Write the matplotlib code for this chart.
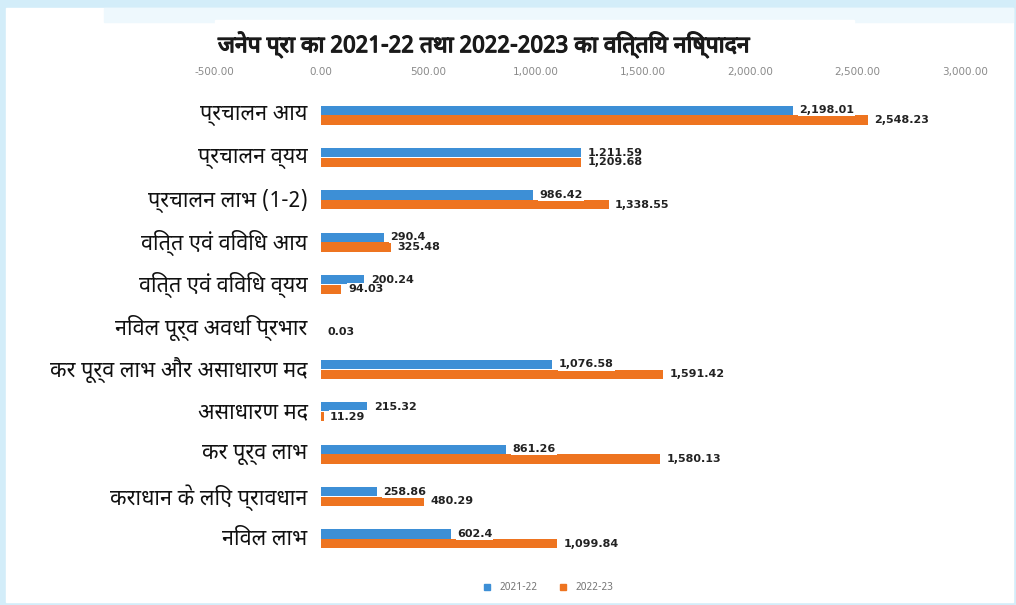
import matplotlib
matplotlib.use('Agg')
import matplotlib.pyplot as plt
import matplotlib.patheffects as pe
from matplotlib import font_manager
from matplotlib.ft2font import FT2Font
from matplotlib.patches import Rectangle
from matplotlib.lines import Line2D

# data (Rs. crore)
categories = ['प्रचालन आय', 'प्रचालन व्यय', 'प्रचालन लाभ (1-2)', 'वित्त एवं विविध आय',
              'वित्त एवं विविध व्यय', 'निवल पूर्व अवधि प्रभार', 'कर पूर्व लाभ और असाधारण मद',
              'असाधारण मद', 'कर पूर्व लाभ', 'कराधान के लिए प्रावधान', 'निवल लाभ']
fy2122 = [2198.01, 1211.59, 986.42, 290.4, 200.24, 0, 1076.58, 215.32, 861.26, 258.86, 602.4]
fy2223 = [2548.23, 1209.68, 1338.55, 325.48, 94.03, 0.03, 1591.42, 11.29, 1580.13, 480.29, 1099.84]
series_names = ['2021-22', '2022-23']
xticks = [-500, 0, 500, 1000, 1500, 2000, 2500, 3000]
title = 'जनेप प्रा का 2021-22 तथा 2022-2023 का वित्तिय निष्पादन'

BLUE = '#3d8fd6'
ORANGE = '#ee7420'

# look for a font that has Devanagari glyphs
preferred = ['Noto Sans Devanagari', 'Lohit Devanagari', 'Mukta', 'Hind', 'FreeSans']
found = []
for f in font_manager.fontManager.ttflist:
    try:
        if ord('क') in FT2Font(f.fname).get_charmap():
            found.append(f.name)
    except Exception:
        pass
deva = None
for name in preferred:
    if name in found:
        deva = name
        break
if deva is None and found:
    deva = found[0]
plt.rcParams['font.family'] = [deva, 'DejaVu Sans'] if deva else ['DejaVu Sans']

W, H = 1016, 605
fig = plt.figure(figsize=(W / 100, H / 100), dpi=100, facecolor='#d3edf9')


def px_rect(x0, y0, x1, y1, color):
    fig.patches.append(Rectangle((x0 / W, 1 - y1 / H), (x1 - x0) / W, (y1 - y0) / H,
                                 transform=fig.transFigure, color=color, zorder=-10))


px_rect(6, 8, 1013, 602, 'white')
px_rect(104, 8, 1013, 22, '#eef8fd')
px_rect(215, 20, 854, 40, 'white')

ax = fig.add_axes([214 / W, 1 - 560 / H, 751 / W, 475 / H])
ax.set_facecolor('none')

y = list(range(len(categories)))
h = 0.22
off = 0.115
ax.barh([i - off for i in y], fy2122, height=h, color=BLUE)
ax.barh([i + off for i in y], fy2223, height=h, color=ORANGE)

for i in y:
    for v, dy in ((fy2122[i], -off), (fy2223[i], off)):
        if v == 0:
            continue
        ax.text(v + 30, i + dy, f'{v:,}', fontsize=8, fontweight='bold', color='#222222',
                va='center', ha='left', family=['DejaVu Sans'],
                bbox=dict(boxstyle='square,pad=0.1', fc='white', ec='none'))
    ax.text(-64, i + 0.02, categories[i], fontsize=15.5, ha='right', va='center',
            color='#111111', clip_on=False)

ax.set_xlim(-500, 3000)
ax.set_ylim(10.5, -0.71)
ax.xaxis.tick_top()
ax.set_xticks(xticks)
ax.set_xticklabels([f'{t:,.2f}' for t in xticks], fontsize=7.5, color='#8a8a8a',
                   family=['DejaVu Sans'])
ax.tick_params(axis='x', length=0, pad=6)
ax.set_yticks([])
for s in ax.spines.values():
    s.set_visible(False)

fig.text(485 / W, 1 - 45 / H, title, fontsize=16.5, fontweight='bold', ha='center',
         va='center', color='#1a1a1a',
         path_effects=[pe.withStroke(linewidth=0.9, foreground='#1a1a1a')])

handles = [Line2D([], [], marker='s', ls='', color=BLUE, markersize=5),
           Line2D([], [], marker='s', ls='', color=ORANGE, markersize=5)]
fig.legend(handles, series_names, loc='center', bbox_to_anchor=(545 / W, 1 - 588 / H),
           ncol=2, frameon=False, fontsize=7.5, handletextpad=0.2, columnspacing=1.5,
           labelcolor='#777777')

fig.savefig('out.png', dpi=100, facecolor=fig.get_facecolor())
